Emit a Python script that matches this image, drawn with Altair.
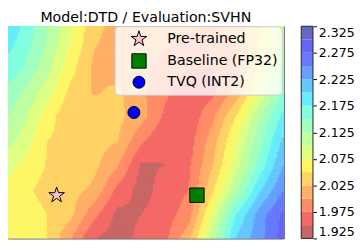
import numpy as np
import pandas as pd
import altair as alt

# ---------------- data ----------------
title_text = "Model:DTD / Evaluation:SVHN"

# loss surface on a 13 x 10 grid (columns left->right, rows top->bottom)
loss_rows = [
    [2.2125, 2.174, 2.129, 2.084, 2.034, 2.0175, 2.0125, 2.010, 2.0075, 2.005, 2.0125, 2.045, 2.0975],
    [2.195, 2.165, 2.124, 2.075, 2.0275, 2.015, 2.010, 2.0025, 1.995, 1.990, 2.000, 2.0525, 2.110],
    [2.176, 2.150, 2.110, 2.060, 2.020, 2.015, 2.0075, 1.992, 1.976, 1.975, 1.9925, 2.0575, 2.125],
    [2.1525, 2.125, 2.0875, 2.044, 2.0225, 2.030, 2.005, 1.980, 1.959, 1.9675, 2.0075, 2.080, 2.150],
    [2.136, 2.1075, 2.0625, 2.030, 2.0375, 2.0325, 2.010, 1.970, 1.9575, 1.9925, 2.050, 2.120, 2.1825],
    [2.120, 2.090, 2.050, 2.0425, 2.035, 2.026, 1.980, 1.951, 1.9625, 2.0125, 2.075, 2.140, 2.205],
    [2.095, 2.0675, 2.049, 2.040, 2.031, 2.0025, 1.946, 1.950, 1.970, 2.0225, 2.089, 2.159, 2.225],
    [2.0775, 2.055, 2.0425, 2.034, 2.020, 1.9675, 1.940, 1.960, 1.975, 2.044, 2.119, 2.195, 2.250],
    [2.080, 2.0625, 2.050, 2.0325, 1.9825, 1.9425, 1.950, 1.9625, 1.9875, 2.080, 2.175, 2.2375, 2.280],
    [2.080, 2.064, 2.051, 2.000, 1.949, 1.940, 1.956, 1.969, 2.0175, 2.1125, 2.2025, 2.240, 2.2875],
]

# contour levels and colorbar tick labels
levels = [1.925, 1.95, 1.975, 2.0, 2.025, 2.05, 2.075, 2.1, 2.125, 2.15,
          2.175, 2.2, 2.225, 2.25, 2.275, 2.3, 2.325]
cbar_ticks = [1.925, 1.975, 2.025, 2.075, 2.125, 2.175, 2.225, 2.275, 2.325]

# markers
marker_names = ["Pre-trained", "Baseline (FP32)", "TVQ (INT2)"]
marker_x = [2.39, 8.33, 5.66]
marker_y = [1.76, 1.76, 5.13]

# ---------------- styling helpers ----------------
def jet(t):
    r = np.interp(t, [0, 0.35, 0.66, 0.89, 1], [0, 0, 1, 1, 0.5])
    g = np.interp(t, [0, 0.125, 0.375, 0.64, 0.91, 1], [0, 0, 1, 1, 0, 0])
    b = np.interp(t, [0, 0.11, 0.34, 0.65, 1], [0.5, 1, 1, 0, 0])
    return r, g, b

nb = len(levels) - 1
alpha = 0.6
band_colors = []
for i in range(nb):
    t = 1 - (i + 0.5) / nb  # reversed jet
    rgb = [int(round(255 * (alpha * c + 1 - alpha))) for c in jet(t)]
    band_colors.append("#%02x%02x%02x" % tuple(rgb))

# ---------------- filled contour raster ----------------
G = np.array(loss_rows)[::-1]  # row 0 = bottom
ny, nx = G.shape
sub = 16
xe = np.linspace(0, nx - 1, (nx - 1) * sub + 1)
ye = np.linspace(0, ny - 1, (ny - 1) * sub + 1)
xc = (xe[:-1] + xe[1:]) / 2
yc = (ye[:-1] + ye[1:]) / 2

ix = np.clip(np.floor(xc).astype(int), 0, nx - 2)
tx = xc - ix
iy = np.clip(np.floor(yc).astype(int), 0, ny - 2)
ty = yc - iy

recs = []
lv0 = levels[0]
step = levels[1] - levels[0]
for j in range(len(yc)):
    r0 = G[iy[j]]
    r1 = G[iy[j] + 1]
    a = r0[ix] * (1 - tx) + r0[ix + 1] * tx
    b = r1[ix] * (1 - tx) + r1[ix + 1] * tx
    v = a * (1 - ty[j]) + b * ty[j]
    k = np.clip(np.floor((v - lv0) / step).astype(int), 0, nb - 1)
    start = 0
    for i in range(1, len(k) + 1):
        if i == len(k) or k[i] != k[start]:
            recs.append({"x0": xe[start], "x1": xe[i], "y0": ye[j], "y1": ye[j + 1],
                         "color": band_colors[k[start]]})
            start = i
heat_df = pd.DataFrame(recs)

# layout (view = visible part of the original axes box)
W, H = 282, 217
CB_X0, CB_W = 300, 12
x_lo = (nx - 1) * 8 / 290.0
y_hi = (ny - 1) * (241 - 24) / 226.0

xs = alt.Scale(domain=[x_lo, nx - 1], nice=False, zero=False)
ys = alt.Scale(domain=[0, y_hi], nice=False, zero=False)

heat = alt.Chart(heat_df).mark_rect(strokeWidth=1.5, clip=True).encode(
    x=alt.X("x0:Q", scale=xs, axis=None),
    x2="x1:Q",
    y=alt.Y("y0:Q", scale=ys, axis=None),
    y2="y1:Q",
    fill=alt.Fill("color:N", scale=None),
    stroke=alt.Stroke("color:N", scale=None),
)

star_path = ("M0,-1L0.2245,-0.309L0.951,-0.309L0.363,0.118L0.588,0.809L0,0.382"
             "L-0.588,0.809L-0.363,0.118L-0.951,-0.309L-0.2245,-0.309Z")

pts_df = pd.DataFrame({"name": marker_names, "x": marker_x, "y": marker_y})
leg = alt.Legend(
    title=None, orient="none", legendX=109, legendY=0,
    fillColor="rgba(255,255,255,0.8)", strokeColor="#cccccc", cornerRadius=4,
    padding=4, labelFont="DejaVu Sans", labelFontSize=14.5, labelColor="black",
    symbolOffset=12, labelOffset=20, rowPadding=3.5,
    symbolStrokeColor="black", symbolStrokeWidth=1,
)
pts = alt.Chart(pts_df).mark_point(filled=True, stroke="black", strokeWidth=1, opacity=1).encode(
    x=alt.X("x:Q", scale=xs, axis=None),
    y=alt.Y("y:Q", scale=ys, axis=None),
    fill=alt.Fill("name:N", scale=alt.Scale(domain=marker_names, range=["pink", "green", "blue"]), legend=leg),
    shape=alt.Shape("name:N", scale=alt.Scale(domain=marker_names, range=[star_path, "square", "circle"]), legend=leg),
    size=alt.Size("name:N", scale=alt.Scale(domain=marker_names, range=[280, 150, 130]), legend=leg),
)

plot = alt.layer(heat, pts)

cb_df = pd.DataFrame({"lo": levels[:-1], "hi": levels[1:], "color": band_colors})
cb_scale = alt.Scale(domain=[levels[0], levels[-1]], nice=False, zero=False)
cb_rects = alt.Chart(cb_df).mark_rect().encode(
    x=alt.value(CB_X0), x2=alt.value(CB_X0 + CB_W),
    y=alt.Y("lo:Q", scale=cb_scale,
            axis=alt.Axis(orient="right", offset=CB_X0 + CB_W - W, values=cbar_ticks,
                          tickCount=len(cbar_ticks), format=".3f",
                          title=None, tickSize=3.5, labelPadding=2, labelFontSize=12.8,
                          labelFont="DejaVu Sans", labelColor="black", tickColor="black",
                          domain=False, grid=False, labelFlush=True, labelOverlap=False)),
    y2="hi:Q",
    fill=alt.Fill("color:N", scale=None),
)
cb_frame = alt.Chart(pd.DataFrame({"lo": [levels[0]], "hi": [levels[-1]]})).mark_rect(
    fill=None, stroke="#222222", strokeWidth=1
).encode(
    x=alt.value(CB_X0), x2=alt.value(CB_X0 + CB_W),
    y=alt.Y("lo:Q", scale=cb_scale),
    y2="hi:Q",
)
colorbar = alt.layer(cb_rects, cb_frame)

chart = alt.layer(plot, colorbar).resolve_scale(y="independent").properties(
    width=W, height=H, padding=0,
    title=alt.Title(title_text, fontSize=14.5, font="DejaVu Sans", fontWeight="normal",
                    color="black", offset=0, frame="group", anchor="middle"),
).configure_view(stroke="#222222", strokeWidth=1)

chart.save("out.html", embed_options={"renderer": "svg", "actions": False})
